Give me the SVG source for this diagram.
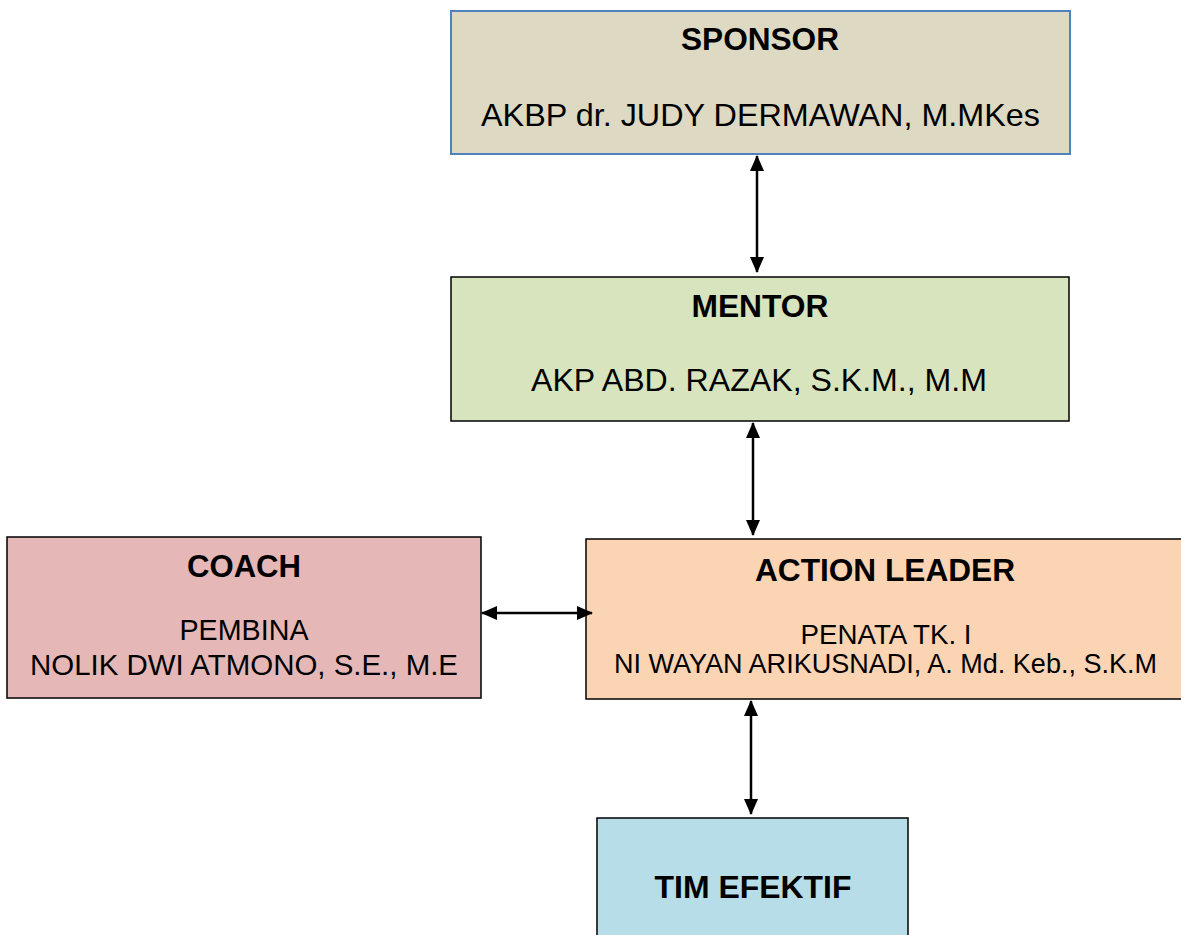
<svg xmlns="http://www.w3.org/2000/svg" width="1181" height="935" viewBox="0 0 1181 935">
  <style>
    .box { stroke: #000; stroke-width: 1.5; }
    .title { font-family: "Liberation Sans", Arial, sans-serif; font-weight: bold; fill: #000; text-anchor: middle; }
    .body { font-family: "Liberation Sans", Arial, sans-serif; fill: #000; text-anchor: middle; }
    .link { stroke: #000; stroke-width: 2.5; fill: none; marker-start: url(#head); marker-end: url(#head); }
  </style>
  <defs>
    <marker id="head" viewBox="0 0 16 14" refX="15" refY="7" markerWidth="16" markerHeight="14" markerUnits="userSpaceOnUse" orient="auto-start-reverse">
      <path d="M0,0 L16,7 L0,14 Z" fill="#000"/>
    </marker>
  </defs>
  <rect width="1181" height="935" fill="#fff"/>

  <g id="sponsor">
    <rect x="451" y="11" width="619" height="143" fill="#ddd9c3" stroke="#4f81bd" stroke-width="2"/>
    <text class="title" x="760" y="50" font-size="31" textLength="158" lengthAdjust="spacingAndGlyphs">SPONSOR</text>
    <text class="body" x="760.5" y="126" font-size="32" textLength="559" lengthAdjust="spacingAndGlyphs">AKBP dr. JUDY DERMAWAN, M.MKes</text>
  </g>

  <g id="mentor">
    <rect class="box" x="451" y="277" width="618" height="144" fill="#d7e4bd"/>
    <text class="title" x="760" y="317" font-size="31" textLength="137" lengthAdjust="spacingAndGlyphs">MENTOR</text>
    <text class="body" x="759" y="391" font-size="32" textLength="456" lengthAdjust="spacingAndGlyphs">AKP ABD. RAZAK, S.K.M., M.M</text>
  </g>

  <g id="coach">
    <rect class="box" x="7" y="537" width="474" height="161" fill="#e5b8b7"/>
    <text class="title" x="244" y="577" font-size="31" textLength="114" lengthAdjust="spacingAndGlyphs">COACH</text>
    <text class="body" x="244" y="640" font-size="29" textLength="129" lengthAdjust="spacingAndGlyphs">PEMBINA</text>
    <text class="body" x="244" y="675" font-size="30" textLength="428" lengthAdjust="spacingAndGlyphs">NOLIK DWI ATMONO, S.E., M.E</text>
  </g>

  <g id="action-leader">
    <rect class="box" x="586" y="539" width="600" height="160" fill="#fbd4b4"/>
    <text class="title" x="885" y="581" font-size="31" textLength="260" lengthAdjust="spacingAndGlyphs">ACTION LEADER</text>
    <text class="body" x="886" y="644" font-size="27" textLength="171" lengthAdjust="spacingAndGlyphs">PENATA TK. I</text>
    <text class="body" x="885.5" y="673" font-size="27" textLength="543" lengthAdjust="spacingAndGlyphs">NI WAYAN ARIKUSNADI, A. Md. Keb., S.K.M</text>
  </g>

  <g id="tim-efektif">
    <rect class="box" x="597" y="818" width="311" height="130" fill="#b7dde8"/>
    <text class="title" x="753" y="898" font-size="31" textLength="197" lengthAdjust="spacingAndGlyphs">TIM EFEKTIF</text>
  </g>

  <g id="connectors">
    <line class="link" x1="757" y1="156" x2="757" y2="272"/>
    <line class="link" x1="753" y1="423" x2="753" y2="535"/>
    <line class="link" x1="482" y1="613" x2="592" y2="613"/>
    <line class="link" x1="751" y1="701" x2="751" y2="814"/>
  </g>
</svg>
